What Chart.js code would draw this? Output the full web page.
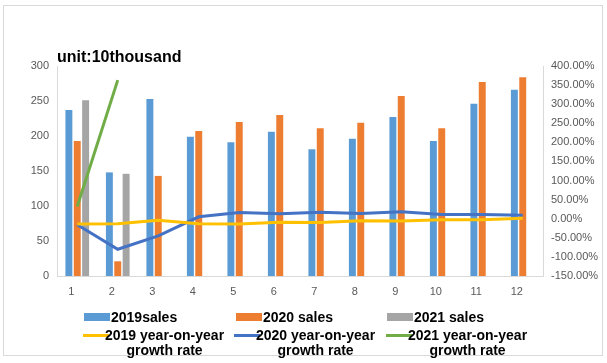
<!DOCTYPE html>
<html>
<head>
<meta charset="utf-8">
<script src="https://cdn.jsdelivr.net/npm/chart.js@4/dist/chart.umd.min.js"></script>
<style>
	body { margin: 0; background: #fff; }
	#wrap { position: relative; width: 607px; height: 363px; }
	#frame { position: absolute; left: 3px; top: 5px; width: 598px; height: 349px; border: 1px solid #D9D9D9; pointer-events: none; }
	.leg { position: absolute; font: bold 14px "Liberation Sans", Arial, sans-serif; color: #000; line-height: 15px; white-space: nowrap; }
	.sw { position: absolute; }
</style>
</head>
<body>
<div id="wrap">
	<canvas id="chart" width="607" height="363"></canvas>
	<div id="frame"></div>
	<div id="legend"></div>
</div>
<script>
// months along the x axis
var months = ['1', '2', '3', '4', '5', '6', '7', '8', '9', '10', '11', '12'];

// sales, unit 10 thousand (left axis)
var sales2019 = [237, 148, 253, 199, 191, 206, 181, 196, 227, 193, 246, 266];
var sales2020 = [193, 21, 143, 207, 220, 230, 211, 219, 257, 211, 277, 284];
var sales2021 = [251, 146, null, null, null, null, null, null, null, null, null, null];

// year-on-year growth rate, % (right axis)
var growth2019 = [-14, -13, -4, -13, -14, -9, -10, -5, -6, -3, -3, 1];
var growth2020 = [-16, -80, -45, 5, 16, 13, 17, 14, 18, 11, 11, 9];
var growth2021 = [32, 363, null, null, null, null, null, null, null, null, null, null];

var leftTicks = { min: 0, max: 300, step: 50 };
var rightTicks = { min: -150, max: 400, step: 50 };

var titleText = 'unit:10thousand';

var colBlue = '#5B9BD5', colOrange = '#ED7D31', colGray = '#A5A5A5';
var colYellow = '#FFC000', colLineBlue = '#4472C4', colGreen = '#70AD47';
var tickColor = '#595959', axisColor = '#D9D9D9';
var font = '"Liberation Sans", Arial, sans-serif';

function barSet(label, data, colour)
{
	return {
		type: 'bar', label: label, data: data, backgroundColor: colour,
		yAxisID: 'y', order: 2,
		categoryPercentage: 0.62, barPercentage: 0.83
	};
}
function lineSet(label, data, colour)
{
	return {
		type: 'line', label: label, data: data, borderColor: colour, backgroundColor: colour,
		borderWidth: 3, pointRadius: 0, tension: 0, yAxisID: 'y1', order: 1, spanGaps: false
	};
}

// title drawn just above the left corner of the plot
var titlePlugin = {
	id: 'unitTitle',
	afterDraw: function(chart) {
		var ctx = chart.ctx;
		ctx.save();
		ctx.font = 'bold 16px ' + font;
		ctx.fillStyle = '#000';
		ctx.textBaseline = 'alphabetic';
		ctx.fillText(titleText, chart.chartArea.left, 62);
		ctx.restore();
	}
};

var ctx = document.getElementById('chart').getContext('2d');
var chart = new Chart(ctx, {
	data: {
		labels: months,
		datasets: [
			barSet('2019sales', sales2019, colBlue),
			barSet('2020 sales', sales2020, colOrange),
			barSet('2021 sales', sales2021, colGray),
			lineSet('2019 year-on-year growth rate', growth2019, colYellow),
			lineSet('2020 year-on-year growth rate', growth2020, colLineBlue),
			lineSet('2021 year-on-year growth rate', growth2021, colGreen)
		]
	},
	options: {
		responsive: false,
		animation: false,
		layout: { padding: { top: 66, left: 0, right: 0, bottom: 0 } },
		plugins: { legend: { display: false }, tooltip: { enabled: false } },
		scales: {
			x: {
				grid: { display: false, drawTicks: false },
				border: { color: axisColor },
				ticks: { color: tickColor, font: { family: font, size: 11 }, padding: 9, labelOffset: -6, maxRotation: 0 },
				afterFit: function(s) { s.height = 363 - 276; }
			},
			y: {
				position: 'left',
				min: leftTicks.min, max: leftTicks.max,
				grid: { display: false, drawTicks: false },
				border: { color: axisColor },
				ticks: { stepSize: leftTicks.step, color: tickColor, font: { family: font, size: 11 }, padding: 8 },
				afterFit: function(s) { s.width = 57; }
			},
			y1: {
				position: 'right',
				min: rightTicks.min, max: rightTicks.max,
				grid: { display: false, drawTicks: false },
				border: { color: axisColor },
				ticks: {
					stepSize: rightTicks.step, color: tickColor, font: { family: font, size: 11 }, padding: 8,
					callback: function(v) { return v.toFixed(2) + '%'; }
				},
				afterFit: function(s) { s.width = 64; }
			}
		}
	},
	plugins: [titlePlugin]
});

// legend, laid out the way the spreadsheet did it
var legendItems = [
	{ text: '2019sales', colour: colBlue, kind: 'bar', x: 84, y: 310 },
	{ text: '2020 sales', colour: colOrange, kind: 'bar', x: 236, y: 310 },
	{ text: '2021 sales', colour: colGray, kind: 'bar', x: 387, y: 310 },
	{ text: '2019 year-on-year<br>growth rate', colour: colYellow, kind: 'line', x: 83, y: 328 },
	{ text: '2020 year-on-year<br>growth rate', colour: colLineBlue, kind: 'line', x: 234, y: 328 },
	{ text: '2021 year-on-year<br>growth rate', colour: colGreen, kind: 'line', x: 386, y: 328 }
];
var legend = document.getElementById('legend');
legendItems.forEach(function(item) {
	var sw = document.createElement('div');
	sw.className = 'sw';
	var textLeft;
	if (item.kind == 'bar')
	{
		sw.setAttribute('style', 'left:' + item.x + 'px; top:' + (item.y + 3) + 'px; width:26px; height:8px; background:' + item.colour);
		textLeft = item.x + 27;
	}
	else
	{
		sw.setAttribute('style', 'left:' + item.x + 'px; top:' + (item.y + 6) + 'px; width:26px; height:3px; background:' + item.colour);
		textLeft = item.x + 22;
	}
	legend.appendChild(sw);
	var t = document.createElement('div');
	t.className = 'leg';
	t.style.left = textLeft + 'px';
	t.style.top = item.y + 'px';
	t.style.textAlign = 'center';
	t.innerHTML = item.text;
	legend.appendChild(t);
});
</script>
</body>
</html>
